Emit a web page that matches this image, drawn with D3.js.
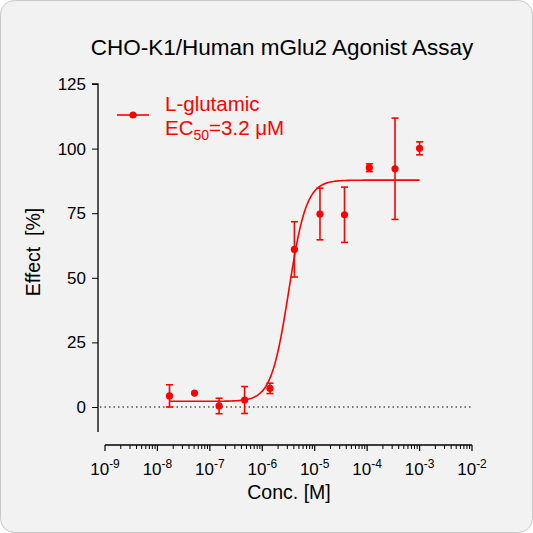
<!DOCTYPE html>
<html><head><meta charset="utf-8">
<script src="https://cdn.jsdelivr.net/npm/d3@7"></script>
<style>body{margin:0;background:#fff}</style>
</head><body>
<script>
// Data
const conc = [1.7e-8, 5.1e-8, 1.5e-7, 4.6e-7, 1.4e-6, 4.1e-6, 1.26e-5, 3.7e-5, 1.1e-4, 3.4e-4, 1e-3];
const effect = [4.3, 5.4, 0.4, 2.7, 7.2, 61, 74.7, 74.4, 92.6, 92.2, 100.1];
const errs = [4.3, 0, 3.0, 5.2, 2.0, 10.7, 10, 10.7, 1.5, 19.6, 2.5];
const fit = {bottom: 2.2, top: 87.8, ec50: 3.2e-6, hill: 2.6};
const yTicks = [0, 25, 50, 75, 100, 125];
const xDecades = [-9, -8, -7, -6, -5, -4, -3, -2];

const svg = d3.select("body").append("svg").attr("width", 533).attr("height", 533);
svg.append("rect").attr("x", 0.5).attr("y", 0.5).attr("width", 532).attr("height", 532)
    .attr("rx", 14).attr("fill", "#f2f2f2").attr("stroke", "#c8c8c8");

const font = "Arial, 'Liberation Sans', sans-serif";
const red = "#ff0000";

const x = d3.scaleLog().domain([1e-9, 1e-2]).range([105, 472]);
const y = d3.scaleLinear().domain([0, 125]).range([407, 84]);

svg.append("text").text("CHO-K1/Human mGlu2 Agonist Assay")
    .attr("x", 282).attr("y", 55).attr("text-anchor", "middle")
    .style("font-family", font).style("font-size", "22.5px");

// Y axis
const yAx = svg.append("g").attr("transform", "translate(98,0)")
    .call(d3.axisLeft(y).tickValues(yTicks).tickSize(6).tickPadding(6));
yAx.select(".domain").attr("d", `M-6,${y(125)}H0V432`).attr("stroke-width", 1.3);
yAx.selectAll("text").style("font-family", font).style("font-size", "17px").attr("fill", "#000");

// X axis
const minor = [];
xDecades.slice(0, -1).forEach(d => { for (let k = 2; k <= 9; k++) minor.push(k * Math.pow(10, d)); });
const xAx = svg.append("g").attr("transform", "translate(0,445)");
xAx.append("line").attr("x1", x(1e-9)).attr("x2", x(1e-2)).attr("stroke", "#000").attr("stroke-width", 1.3);
xAx.selectAll(".maj").data(xDecades).join("line")
    .attr("x1", d => x(Math.pow(10, d))).attr("x2", d => x(Math.pow(10, d)))
    .attr("y2", 6).attr("stroke", "#000").attr("stroke-width", 1.2);
xAx.selectAll(".min").data(minor).join("line")
    .attr("x1", d => x(d)).attr("x2", d => x(d)).attr("y2", 4).attr("stroke", "#000");
const xl = xAx.selectAll(".lab").data(xDecades).join("text")
    .attr("x", d => x(Math.pow(10, d))).attr("y", 30).attr("text-anchor", "middle")
    .style("font-family", font).style("font-size", "17px");
xl.append("tspan").text("10");
xl.append("tspan").text(d => "-" + Math.abs(d)).attr("dy", -7).style("font-size", "12px");

svg.append("text").text("Conc. [M]").attr("x", 289).attr("y", 499).attr("text-anchor", "middle")
    .style("font-family", font).style("font-size", "19.5px");
svg.append("text").text("Effect  [%]").attr("transform", "translate(40,252) rotate(-90)")
    .attr("text-anchor", "middle").attr("xml:space", "preserve")
    .style("font-family", font).style("font-size", "19.5px");

// zero line
svg.append("line").attr("x1", 100).attr("x2", 472).attr("y1", y(0)).attr("y2", y(0))
    .attr("stroke", "#000").attr("stroke-dasharray", "1.5,3");

// fitted curve
const curveX = d3.range(0, 201).map(i => Math.pow(10, Math.log10(conc[0]) + i * (Math.log10(conc[10]) - Math.log10(conc[0])) / 200));
const model = c => fit.bottom + (fit.top - fit.bottom) / (1 + Math.pow(fit.ec50 / c, fit.hill));
svg.append("path").datum(curveX)
    .attr("d", d3.line().x(c => x(c)).y(c => y(model(c))))
    .attr("fill", "none").attr("stroke", red).attr("stroke-width", 1.6);

// error bars and points
const pts = conc.map((c, i) => ({c, v: effect[i], e: errs[i]}));
const eb = svg.append("g").attr("stroke", red).attr("stroke-width", 1.6);
pts.filter(d => d.e > 0).forEach(d => {
    const cx = x(d.c);
    eb.append("line").attr("x1", cx).attr("x2", cx).attr("y1", y(d.v - d.e)).attr("y2", y(d.v + d.e));
    [d.v - d.e, d.v + d.e].forEach(v => eb.append("line").attr("x1", cx - 3.5).attr("x2", cx + 3.5).attr("y1", y(v)).attr("y2", y(v)));
});
svg.selectAll(".pt").data(pts).join("circle")
    .attr("cx", d => x(d.c)).attr("cy", d => y(d.v)).attr("r", 3.6).attr("fill", red);

// legend
svg.append("line").attr("x1", 117).attr("x2", 149).attr("y1", 115).attr("y2", 115).attr("stroke", red).attr("stroke-width", 1.6);
svg.append("circle").attr("cx", 133).attr("cy", 115).attr("r", 3.6).attr("fill", red);
svg.append("text").text("L-glutamic").attr("x", 165).attr("y", 111)
    .style("font-family", font).style("font-size", "20.5px").attr("fill", red);
const ec = svg.append("text").attr("x", 165).attr("y", 135)
    .style("font-family", font).style("font-size", "20.5px").attr("fill", red);
ec.append("tspan").text("EC");
ec.append("tspan").text("50").attr("dy", 5).style("font-size", "14px");
ec.append("tspan").text("=3.2 μM").attr("dy", -5);
</script>
</body></html>
